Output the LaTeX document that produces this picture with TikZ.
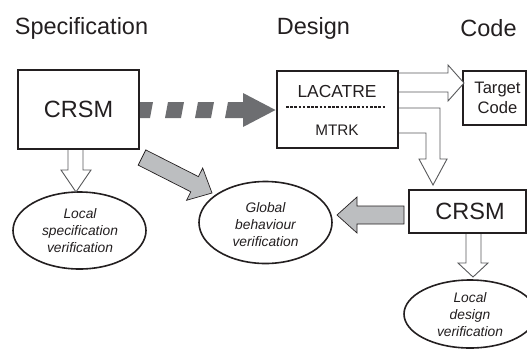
\documentclass[tikz,border=0pt]{standalone}
\usepackage{fontspec}
\setmainfont{Liberation Sans}
\usetikzlibrary{shapes.geometric}
\definecolor{ink}{HTML}{231F20}
\definecolor{darkarrow}{HTML}{6D6E71}
\definecolor{lightarrow}{HTML}{BCBEC0}
\definecolor{hollowline}{HTML}{58595B}
\tikzset{
  title/.style={font=\fontsize{23.5}{28}\selectfont, text=ink, inner sep=0pt},
  boxnode/.style={draw=ink, line width=1.8pt, fill=white, inner sep=0pt},
  ellnode/.style={draw=ink, line width=1.6pt, ellipse, inner sep=0pt, fill=white},
  elltext/.style={font=\fontsize{13.8}{17}\selectfont\itshape, text=ink, align=center, inner sep=0pt},
  hollow/.style={draw=hollowline, line width=0.9pt, fill=white, line join=miter},
  grayfat/.style={draw=ink, line width=0.7pt, fill=lightarrow, line join=miter},
  darkfat/.style={fill=darkarrow, draw=none},
}
\begin{document}
\begin{tikzpicture}[x=1pt,y=-1pt]
\useasboundingbox (0,0) rectangle (527,349);
% titles
\node[title] (tspec) at (81.5,28) {Specification};
\node[title] (tdes) at (313.5,28) {Design};
\node[title] (tcode) at (488.5,28) {Code};
% boxes
\node[boxnode, minimum width=121pt, minimum height=79pt,
      font=\fontsize{23.5}{28}\selectfont, text=ink] (crsmA) at (78.5,109.5) {CRSM};
\node[boxnode, minimum width=121pt, minimum height=77pt] (lac) at (337.5,109.5) {};
\node[inner sep=0pt, font=\fontsize{17.4}{20}\selectfont, text=ink] (lactxt) at (337,92) {LACATRE};
\node[inner sep=0pt, font=\fontsize{15.3}{18}\selectfont, text=ink] (mtrk) at (337,130) {MTRK};
\draw[ink, line width=2.8pt, dash pattern=on 2.6pt off 1.6pt] (286,107) -- (386,107);
\node[boxnode, minimum width=63pt, minimum height=54pt] (target) at (494.5,98) {};
\node[inner sep=0pt, font=\fontsize{16.6}{20}\selectfont, text=ink, align=center] (targettxt) at (497.5,97.5) {Target\\Code};
\node[boxnode, minimum width=117pt, minimum height=43pt] (crsmB) at (467.5,211.5) {};
\node[inner sep=0pt, font=\fontsize{23.5}{28}\selectfont, text=ink] (crsmBtxt) at (470,211) {CRSM};
% ellipses
\node[ellnode, minimum width=133pt, minimum height=77pt] (locspec) at (79.5,230.5) {};
\node[elltext] (locspectxt) at (80,231) {Local\\specification\\verification};
\node[ellnode, minimum width=133pt, minimum height=82pt] (glob) at (265.5,222.5) {};
\node[elltext] (globtxt) at (265.5,224.5) {Global\\behaviour\\verification};
\node[ellnode, minimum width=132pt, minimum height=68pt] (locdes) at (470,314) {};
\node[elltext] (locdestxt) at (470,315) {Local\\design\\verification};
% hollow arrow CRSM -> local spec
\draw[hollow] (68,150) -- (68,170) -- (61,170) -- (76,192) -- (91,170) -- (83,170) -- (83,150);
% hollow arrow CRSM2 -> local design
\draw[hollow] (466,234) -- (466,263) -- (458,263) -- (473,277) -- (488,263) -- (481,263) -- (481,234);
% hollow arrow LACATRE -> Target
\draw[hollow] (399,73) -- (448,73) -- (448,65) -- (464,83) -- (448,101) -- (448,92) -- (399,92);
% bent hollow arrow LACATRE -> CRSM2
\draw[hollow] (399,108) -- (440,108) -- (440,159) -- (447,159) -- (433,185) -- (419,159) -- (426,159) -- (426,133) -- (399,133);
% dashed dark arrow CRSM -> LACATRE
\fill[darkfat] (140,102) -- (153,102) -- (150,118) -- (140,118) -- cycle;
\fill[darkfat] (168,102) -- (184,102) -- (181,118) -- (165,118) -- cycle;
\fill[darkfat] (198,102) -- (214,102) -- (211,118) -- (195,118) -- cycle;
\fill[darkfat] (228,102) -- (243,102) -- (243,93) -- (275.5,110) -- (243,127) -- (243,118) -- (225,118) -- cycle;
% gray diagonal arrow CRSM -> global
\draw[grayfat] (145.8,149.9) -- (198.4,176.6) -- (202.7,168.1) -- (212,193) -- (186.5,200.3) -- (190.8,191.8) -- (138.2,165.1) -- cycle;
% gray arrow CRSM2 -> global
\draw[grayfat] (404,206) -- (357,206) -- (357,197) -- (337,215) -- (357,233) -- (357,224) -- (404,224) -- cycle;
\end{tikzpicture}
\end{document}
